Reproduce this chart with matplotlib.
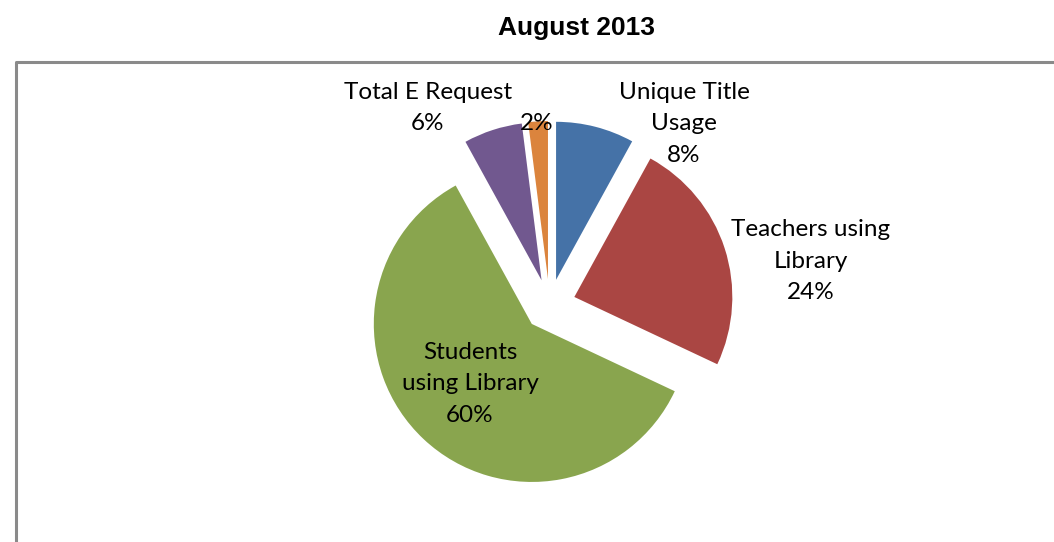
import matplotlib
matplotlib.use('Agg')
import matplotlib.pyplot as plt
from matplotlib.lines import Line2D

# data
categories = ['Unique Title\nUsage', 'Teachers using\nLibrary', 'Students\nusing Library',
              'Total E Request', '']
shares = [8, 24, 60, 6, 2]
pct_labels = ['8%', '24%', '60%', '6%', '2%']
colors = ['#4572A7', '#AA4643', '#89A54E', '#71588F', '#DB843D']

W, H = 1054, 542
fig = plt.figure(figsize=(W / 100, H / 100), dpi=100)
ax = fig.add_axes([0, 0, 1, 1])

radius = 158
# matplotlib adds explode directly in data units
explode = [26] * len(shares)
ax.pie(shares, colors=colors, startangle=90, counterclock=False,
       radius=radius, center=(549.6, H - 305), explode=explode,
       wedgeprops=dict(linewidth=0), frame=True)
ax.set_xlim(0, W)
ax.set_ylim(0, H)
ax.axis('off')

# data label positions (pixel from top-left), Excel "best fit" placement
label_pos = [(684, 124), (811, 261), (470, 384), (428, 108), (537, 124)]
for name, pct, (x, y) in zip(categories, pct_labels, label_pos):
    txt = f'{name}\n{pct}' if name else pct
    ax.text(x, H - y, txt, ha='center', va='center', fontsize=17.5,
            family='Lato', linespacing=1.63, color='black')

fig.text(577 / W, 1 - 28 / H, 'August 2013', ha='center', va='center',
         fontsize=19, fontweight='bold', family='Liberation Sans')

# chart area border (cut by the page edge)
fig.add_artist(Line2D([16 / W, 16 / W, 1.0], [0, 1 - 62 / H, 1 - 62 / H],
                      transform=fig.transFigure, color='#8a8a8a', lw=2.2))

fig.savefig('out.png', dpi=100)
